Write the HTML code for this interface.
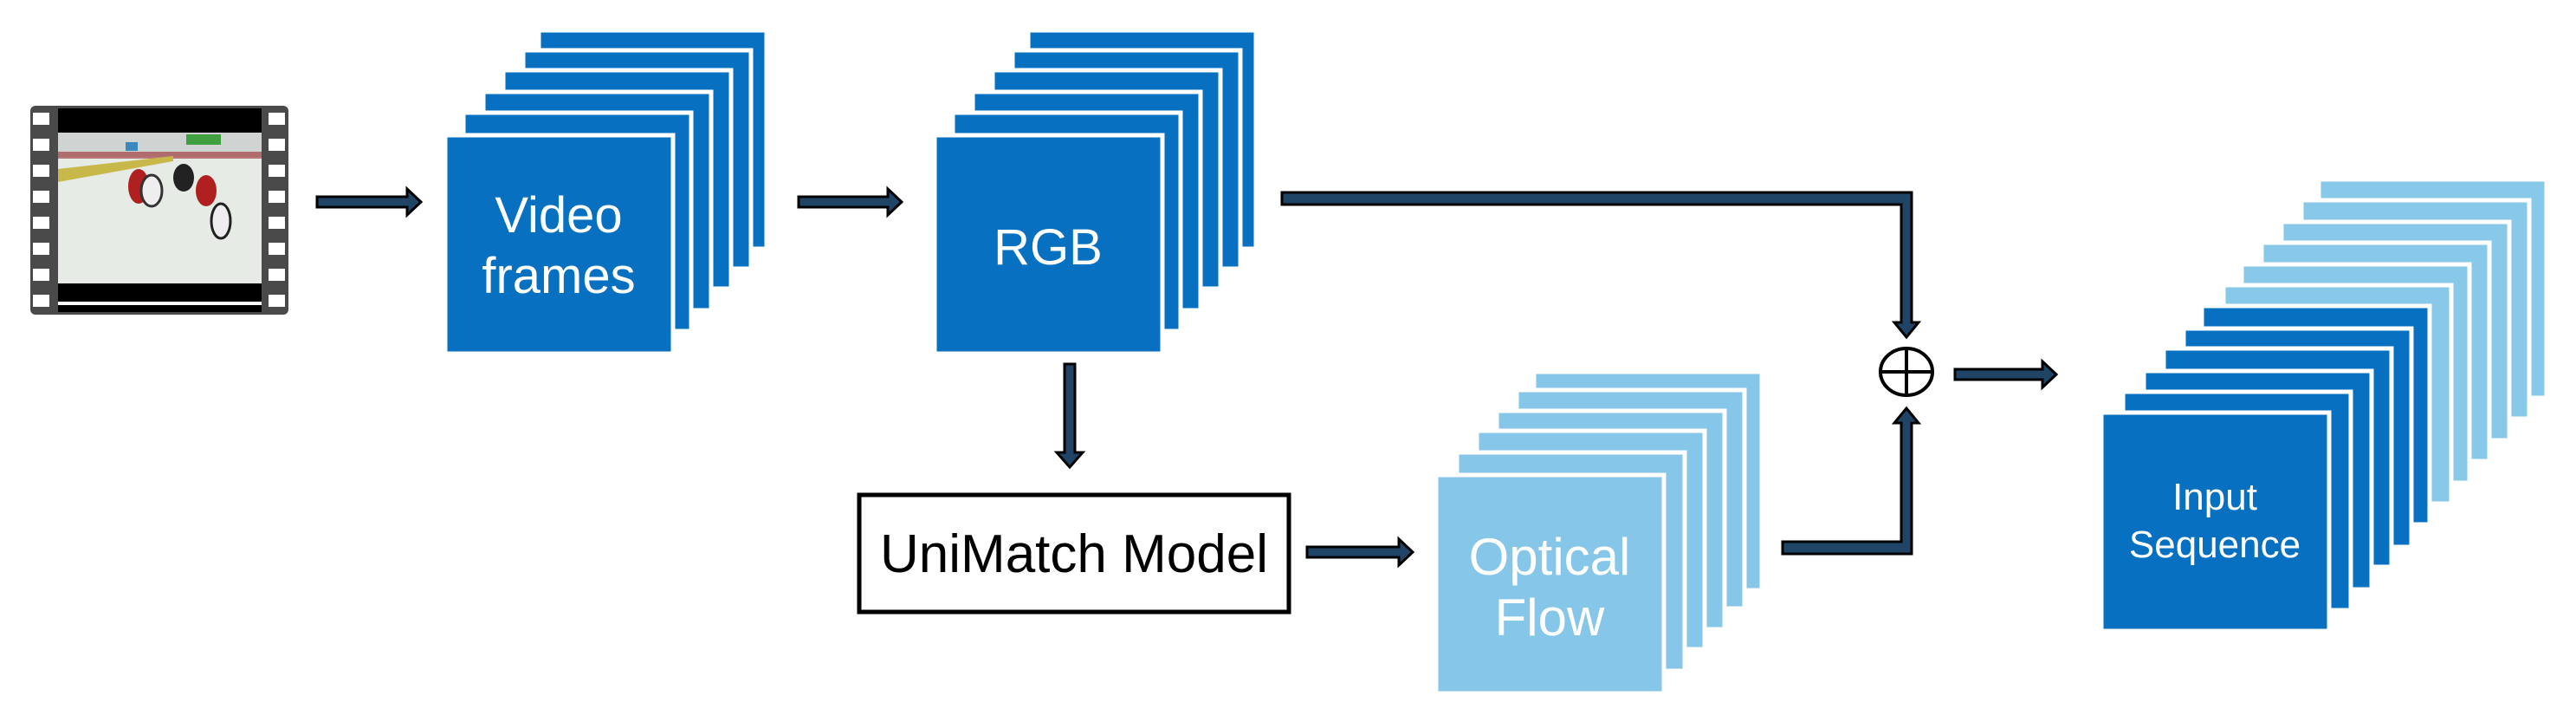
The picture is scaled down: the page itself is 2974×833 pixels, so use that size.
<!DOCTYPE html>
<html><head><style>
html,body{margin:0;padding:0;background:#fff;}
svg{display:block;}
text{font-family:"Liberation Sans",sans-serif;}
</style></head><body>
<svg width="2974" height="833" viewBox="0 0 2974 833" xmlns="http://www.w3.org/2000/svg">
<defs>
<marker id="ah" markerWidth="4" markerHeight="4" refX="2" refY="2" orient="auto" markerUnits="userSpaceOnUse"></marker>
</defs>
<!-- Film strip -->
<rect x="35" y="122" width="298" height="241" rx="6" fill="#4a4a4a"/>
<rect x="67" y="125" width="235" height="235" fill="#000"/>
<rect x="67" y="153" width="235" height="174" fill="#e6ebe6"/>
<rect x="67" y="153" width="235" height="28" fill="#cfd4d2"/>
<rect x="67" y="175" width="235" height="8" fill="#9a2a2a" opacity="0.6"/>
<rect x="145" y="164" width="14" height="10" fill="#3a8ac0"/>
<rect x="215" y="155" width="40" height="12" fill="#40a040"/>
<polygon points="67,195 200,180 200,186 67,210" fill="#c8b84a"/>
<ellipse cx="160" cy="215" rx="12" ry="20" fill="#b02020"/>
<ellipse cx="175" cy="220" rx="12" ry="18" fill="#eee" stroke="#333" stroke-width="3"/>
<ellipse cx="212" cy="205" rx="12" ry="16" fill="#222"/>
<ellipse cx="238" cy="220" rx="12" ry="18" fill="#b02020"/>
<ellipse cx="255" cy="255" rx="11" ry="20" fill="#eee" stroke="#222" stroke-width="3"/>
<rect x="67" y="348" width="235" height="4" fill="#fff"/>
<g fill="#fff">
<rect x="38" y="130" width="19" height="14"/><rect x="38" y="160" width="19" height="14"/><rect x="38" y="190" width="19" height="14"/><rect x="38" y="220" width="19" height="14"/><rect x="38" y="250" width="19" height="14"/><rect x="38" y="280" width="19" height="14"/><rect x="38" y="310" width="19" height="14"/><rect x="38" y="340" width="19" height="14"/>
<rect x="310" y="130" width="19" height="14"/><rect x="310" y="160" width="19" height="14"/><rect x="310" y="190" width="19" height="14"/><rect x="310" y="220" width="19" height="14"/><rect x="310" y="250" width="19" height="14"/><rect x="310" y="280" width="19" height="14"/><rect x="310" y="310" width="19" height="14"/><rect x="310" y="340" width="19" height="14"/>
</g>

<!-- Video frames stack -->
<g fill="#0770c0" stroke="#fff" stroke-width="5">
<rect x="622" y="35" width="263" height="252"/>
<rect x="604" y="58" width="263" height="252"/>
<rect x="581" y="81" width="263" height="252"/>
<rect x="558" y="106" width="263" height="252"/>
<rect x="535" y="130" width="263" height="252"/>
<rect x="514" y="156" width="263" height="252"/>
</g>
<text x="645" y="268" font-size="58" fill="#fff" text-anchor="middle">Video</text>
<text x="645" y="338" font-size="58" fill="#fff" text-anchor="middle">frames</text>

<!-- RGB stack -->
<g fill="#0770c0" stroke="#fff" stroke-width="5">
<rect x="1187" y="35" width="263" height="252"/>
<rect x="1169" y="58" width="263" height="252"/>
<rect x="1146" y="81" width="263" height="252"/>
<rect x="1123" y="106" width="263" height="252"/>
<rect x="1100" y="130" width="263" height="252"/>
<rect x="1079" y="156" width="263" height="252"/>
</g>
<text x="1210" y="305" font-size="58" fill="#fff" text-anchor="middle">RGB</text>

<!-- UniMatch box -->
<rect x="992" y="571" width="496" height="135" fill="#fff" stroke="#000" stroke-width="5"/>
<text x="1240" y="660" font-size="62" fill="#000" text-anchor="middle">UniMatch Model</text>

<!-- Optical flow stack -->
<g fill="#86c6e8" stroke="#fff" stroke-width="5">
<rect x="1771" y="429" width="263" height="252"/>
<rect x="1751" y="450" width="263" height="252"/>
<rect x="1728" y="474" width="263" height="252"/>
<rect x="1705" y="497" width="263" height="252"/>
<rect x="1682" y="522" width="263" height="252"/>
<rect x="1658" y="548" width="263" height="252"/>
</g>
<text x="1789" y="663" font-size="60" fill="#fff" text-anchor="middle">Optical</text>
<text x="1789" y="733" font-size="60" fill="#fff" text-anchor="middle">Flow</text>

<!-- Input sequence stack -->
<g stroke="#fff" stroke-width="5">
<rect x="2677" y="207" width="263" height="252" fill="#88c8e9"/>
<rect x="2657" y="231" width="263" height="252" fill="#88c8e9"/>
<rect x="2634" y="256" width="263" height="252" fill="#88c8e9"/>
<rect x="2611" y="280" width="263" height="252" fill="#88c8e9"/>
<rect x="2588" y="305" width="263" height="252" fill="#88c8e9"/>
<rect x="2567" y="329" width="263" height="252" fill="#88c8e9"/>
<rect x="2542" y="353" width="263" height="252" fill="#0770c0"/>
<rect x="2521" y="379" width="263" height="252" fill="#0770c0"/>
<rect x="2498" y="402" width="263" height="252" fill="#0770c0"/>
<rect x="2475" y="428" width="263" height="252" fill="#0770c0"/>
<rect x="2451" y="452" width="263" height="252" fill="#0770c0"/>
<rect x="2426" y="476" width="263" height="252" fill="#0770c0"/>
</g>
<text x="2557" y="588" font-size="44" fill="#fff" text-anchor="middle">Input</text>
<text x="2557" y="643" font-size="44" fill="#fff" text-anchor="middle">Sequence</text>

<!-- Arrows -->
<g fill="#1f4466" stroke="#000" stroke-width="3" stroke-linejoin="miter">
<!-- arrow 1 -->
<polygon points="366,227 470,227 470,218 486,233 470,248 470,239 366,239"/>
<!-- arrow 2 -->
<polygon points="922,227 1025,227 1025,218 1041,233 1025,248 1025,239 922,239"/>
<!-- down arrow -->
<polygon points="1229,420 1241,420 1241,522 1250,522 1235,539 1220,522 1229,522"/>
<!-- unimatch -> optical -->
<polygon points="1509,631 1615,631 1615,622 1631,637 1615,652 1615,643 1509,643"/>
<!-- top route to plus -->
<polygon points="1480,222 2207,222 2207,372 2215,372 2201,389 2187,372 2195,372 2195,236 1480,236"/>
<!-- bottom route to plus -->
<polygon points="2058,625 2195,625 2195,488 2187,488 2201,471 2215,488 2207,488 2207,639 2058,639"/>
<!-- plus -> input -->
<polygon points="2257,426 2358,426 2358,417 2374,432 2358,447 2358,438 2257,438"/>
</g>
<!-- circle plus -->
<ellipse cx="2201" cy="429" rx="30" ry="27" fill="#fff" stroke="#000" stroke-width="4"/>
<line x1="2171" y1="429" x2="2231" y2="429" stroke="#000" stroke-width="4"/>
<line x1="2201" y1="402" x2="2201" y2="456" stroke="#000" stroke-width="4"/>
</svg>
</body></html>
